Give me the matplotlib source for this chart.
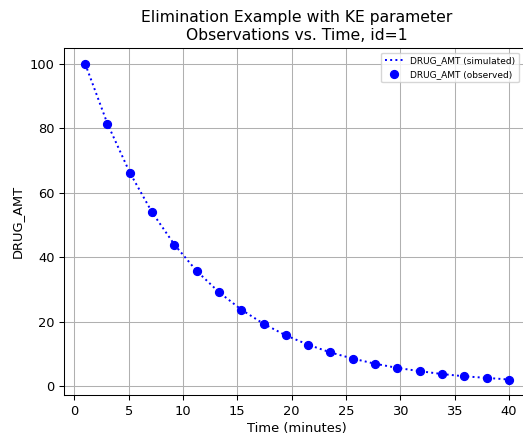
import matplotlib
matplotlib.use("Agg")
import matplotlib.pyplot as plt

time = [1.0, 3.05, 5.11, 7.16, 9.21, 11.26, 13.32, 15.37, 17.42, 19.47,
        21.53, 23.58, 25.63, 27.68, 29.74, 31.79, 33.84, 35.89, 37.95, 40.0]
drug_amt = [100.0, 81.4, 66.2, 53.9, 43.9, 35.7, 29.1, 23.7, 19.3, 15.7,
            12.8, 10.4, 8.5, 6.9, 5.6, 4.6, 3.7, 3.0, 2.5, 2.0]

s = 0.94
plt.rcParams.update({
    'font.size': 10 * s,
    'axes.titlesize': 12 * s,
    'axes.linewidth': 0.8 * s,
    'lines.linewidth': 1.5 * s,
    'lines.markersize': 6 * s,
    'grid.linewidth': 0.8 * s,
    'xtick.major.width': 0.8 * s,
    'ytick.major.width': 0.8 * s,
    'xtick.major.size': 3.5 * s,
    'ytick.major.size': 3.5 * s,
})

fig = plt.figure(figsize=(5.23, 4.34), dpi=100)
ax = fig.add_axes([0.1224, 0.0892, 0.891, 0.800])
ax.plot(time, drug_amt, ':', color='blue', label='DRUG_AMT (simulated)')
ax.plot(time, drug_amt, 'o', color='blue', label='DRUG_AMT (observed)')
ax.set_xlabel('Time (minutes)', labelpad=3)
ax.set_ylabel('DRUG_AMT')
ax.set_title('Elimination Example with KE parameter\nObservations vs. Time, id=1')
ax.grid(True)
ax.legend(fontsize=6.9 * s, loc='upper right', bbox_to_anchor=(0.985, 1.0))
fig.savefig('out.png', dpi=100)
